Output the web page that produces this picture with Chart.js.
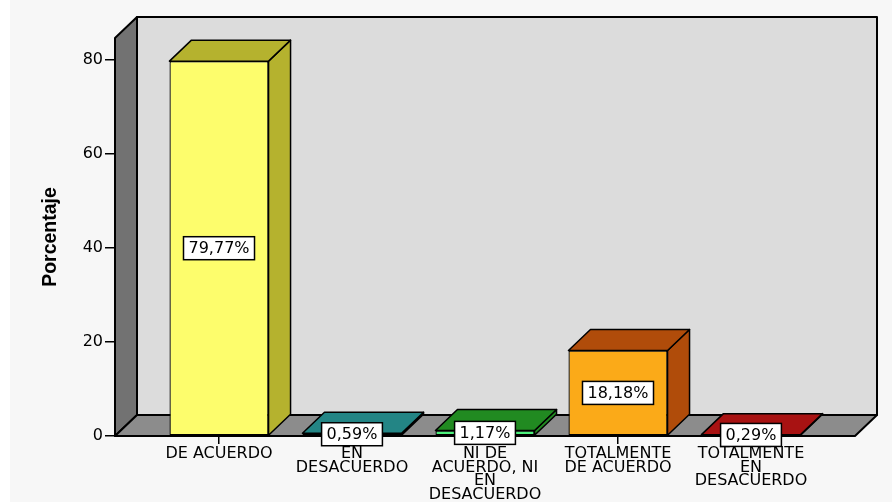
<!DOCTYPE html>
<html>
<head>
<meta charset="utf-8">
<script src="https://cdn.jsdelivr.net/npm/chart.js@4.4.1/dist/chart.umd.min.js"></script>
<style>
  html, body { margin: 0; padding: 0; background: #ffffff; }
  #wrap { width: 892px; height: 502px; position: relative; }
</style>
</head>
<body>
<div id="wrap"><canvas id="c" width="892" height="502"></canvas></div>
<script>
// ---- data ----
const categories = ['DE ACUERDO', 'EN DESACUERDO', 'NI DE ACUERDO, NI EN DESACUERDO', 'TOTALMENTE DE ACUERDO', 'TOTALMENTE EN DESACUERDO'];
const categoryLines = [['DE ACUERDO'], ['EN', 'DESACUERDO'], ['NI DE', 'ACUERDO, NI', 'EN', 'DESACUERDO'], ['TOTALMENTE', 'DE ACUERDO'], ['TOTALMENTE', 'EN', 'DESACUERDO']];
const percentages = [79.77, 0.59, 1.17, 18.18, 0.29];
const valueLabels = ['79,77%', '0,59%', '1,17%', '18,18%', '0,29%'];
const yTicks = [0, 20, 40, 60, 80];
const yTitle = 'Porcentaje';

// ---- styles ----
const frontColors = ['#fdfd6c', '#5fe0e0', '#4cf07c', '#fbaa18', '#e01818'];
const depthColors = ['#b5b22e', '#238585', '#218a21', '#b04c0a', '#a81212'];
const DX = 22, DY = -21;

function poly(ctx, pts, fill) {
  ctx.beginPath();
  ctx.moveTo(pts[0][0], pts[0][1]);
  for (let i = 1; i < pts.length; i++) ctx.lineTo(pts[i][0], pts[i][1]);
  ctx.closePath();
  ctx.fillStyle = fill;
  ctx.fill();
  ctx.stroke();
}

const threeD = {
  id: 'threeD',
  beforeDraw(chart) {
    const ctx = chart.ctx;
    ctx.save();
    ctx.fillStyle = '#ffffff';
    ctx.fillRect(0, 0, chart.width, chart.height);
    ctx.fillStyle = '#f7f7f7';
    ctx.fillRect(10, 0, chart.width - 10, chart.height);
    ctx.restore();
  },
  beforeDatasetsDraw(chart) {
    const ctx = chart.ctx, a = chart.chartArea;
    ctx.save();
    ctx.strokeStyle = '#000';
    ctx.lineWidth = 2;
    ctx.lineJoin = 'round';
    // back wall
    ctx.fillStyle = '#dcdcdc';
    ctx.fillRect(a.left + DX, a.top + DY, a.right - a.left, a.bottom - a.top);
    ctx.strokeRect(a.left + DX, a.top + DY, a.right - a.left, a.bottom - a.top);
    // left wall
    poly(ctx, [[a.left, a.top], [a.left + DX, a.top + DY], [a.left + DX, a.bottom + DY], [a.left, a.bottom]], '#727272');
    // floor
    poly(ctx, [[a.left, a.bottom], [a.left + DX, a.bottom + DY], [a.right + DX, a.bottom + DY], [a.right, a.bottom]], '#8c8c8c');
    ctx.restore();
  },
  afterDatasetsDraw(chart) {
    const ctx = chart.ctx;
    const meta = chart.getDatasetMeta(0);
    ctx.save();
    ctx.strokeStyle = '#000';
    ctx.lineWidth = 1.5;
    ctx.lineJoin = 'round';
    meta.data.forEach((bar, i) => {
      const p = bar.getProps(['x', 'y', 'base', 'width'], true);
      const l = p.x - p.width / 2, r = p.x + p.width / 2;
      poly(ctx, [[r, p.y], [r + DX, p.y + DY], [r + DX, p.base + DY], [r, p.base]], depthColors[i]);
      poly(ctx, [[l, p.y], [l + DX, p.y + DY], [r + DX, p.y + DY], [r, p.y]], depthColors[i]);
    });
    ctx.restore();
  },
  afterDraw(chart) {
    const ctx = chart.ctx;
    const meta = chart.getDatasetMeta(0);
    ctx.save();
    ctx.font = '16px "DejaVu Sans"';
    ctx.textAlign = 'center';
    ctx.textBaseline = 'middle';
    meta.data.forEach((bar, i) => {
      const p = bar.getProps(['x', 'y', 'base'], true);
      const cy = (p.y + p.base) / 2;
      const txt = valueLabels[i];
      const w = ctx.measureText(txt).width + 10;
      const h = 23;
      ctx.fillStyle = '#fff';
      ctx.fillRect(p.x - w / 2, cy - h / 2, w, h);
      ctx.strokeStyle = '#000';
      ctx.lineWidth = 1.5;
      ctx.strokeRect(p.x - w / 2, cy - h / 2, w, h);
      ctx.fillStyle = '#000';
      ctx.fillText(txt, p.x, cy + 1);
    });
    ctx.restore();
  }
};

new Chart(document.getElementById('c'), {
  type: 'bar',
  data: {
    datasets: [{
      label: yTitle,
      data: percentages.map((v, i) => ({ x: i, y: v })),
      backgroundColor: frontColors,
      borderColor: '#000',
      borderWidth: 1.3,
      borderSkipped: false,
      barPercentage: 0.745,
      categoryPercentage: 1
    }]
  },
  options: {
    responsive: false,
    animation: false,
    events: [],
    layout: { padding: { top: 38, right: 37, left: 0, bottom: 0 } },
    plugins: { legend: { display: false }, tooltip: { enabled: false } },
    scales: {
      x: {
        type: 'linear',
        min: -0.782,
        max: 4.782,
        offset: false,
        afterBuildTicks: s => { s.ticks = categories.map((c, i) => ({ value: i })); },
        afterFit: s => { s.height = 66; },
        border: { display: false },
        grid: { display: true, offset: false, drawOnChartArea: false, drawTicks: true, tickLength: 8, color: '#000', lineWidth: 1.5 },
        ticks: {
          autoSkip: false, maxRotation: 0, minRotation: 0, padding: 3, color: '#000',
          font: { family: '"DejaVu Sans"', size: 16, lineHeight: 0.856 },
          callback: v => categoryLines[Math.round(v)] || ''
        }
      },
      y: {
        min: 0,
        max: 84.7,
        afterBuildTicks: s => { s.ticks = yTicks.map(v => ({ value: v })); },
        afterFit: s => { s.width = 115; },
        border: { display: false },
        grid: { display: true, drawOnChartArea: false, drawTicks: true, tickLength: 10, color: '#000', lineWidth: 1.5 },
        ticks: { padding: 2, color: '#000', font: { family: '"DejaVu Sans"', size: 16 } },
        title: {
          display: true, text: yTitle, color: '#000',
          font: { family: '"Liberation Sans", Arial, sans-serif', size: 19.5, weight: 'bold' },
          padding: { top: 39, bottom: 0 }
        }
      }
    }
  },
  plugins: [threeD]
});
</script>
</body>
</html>
